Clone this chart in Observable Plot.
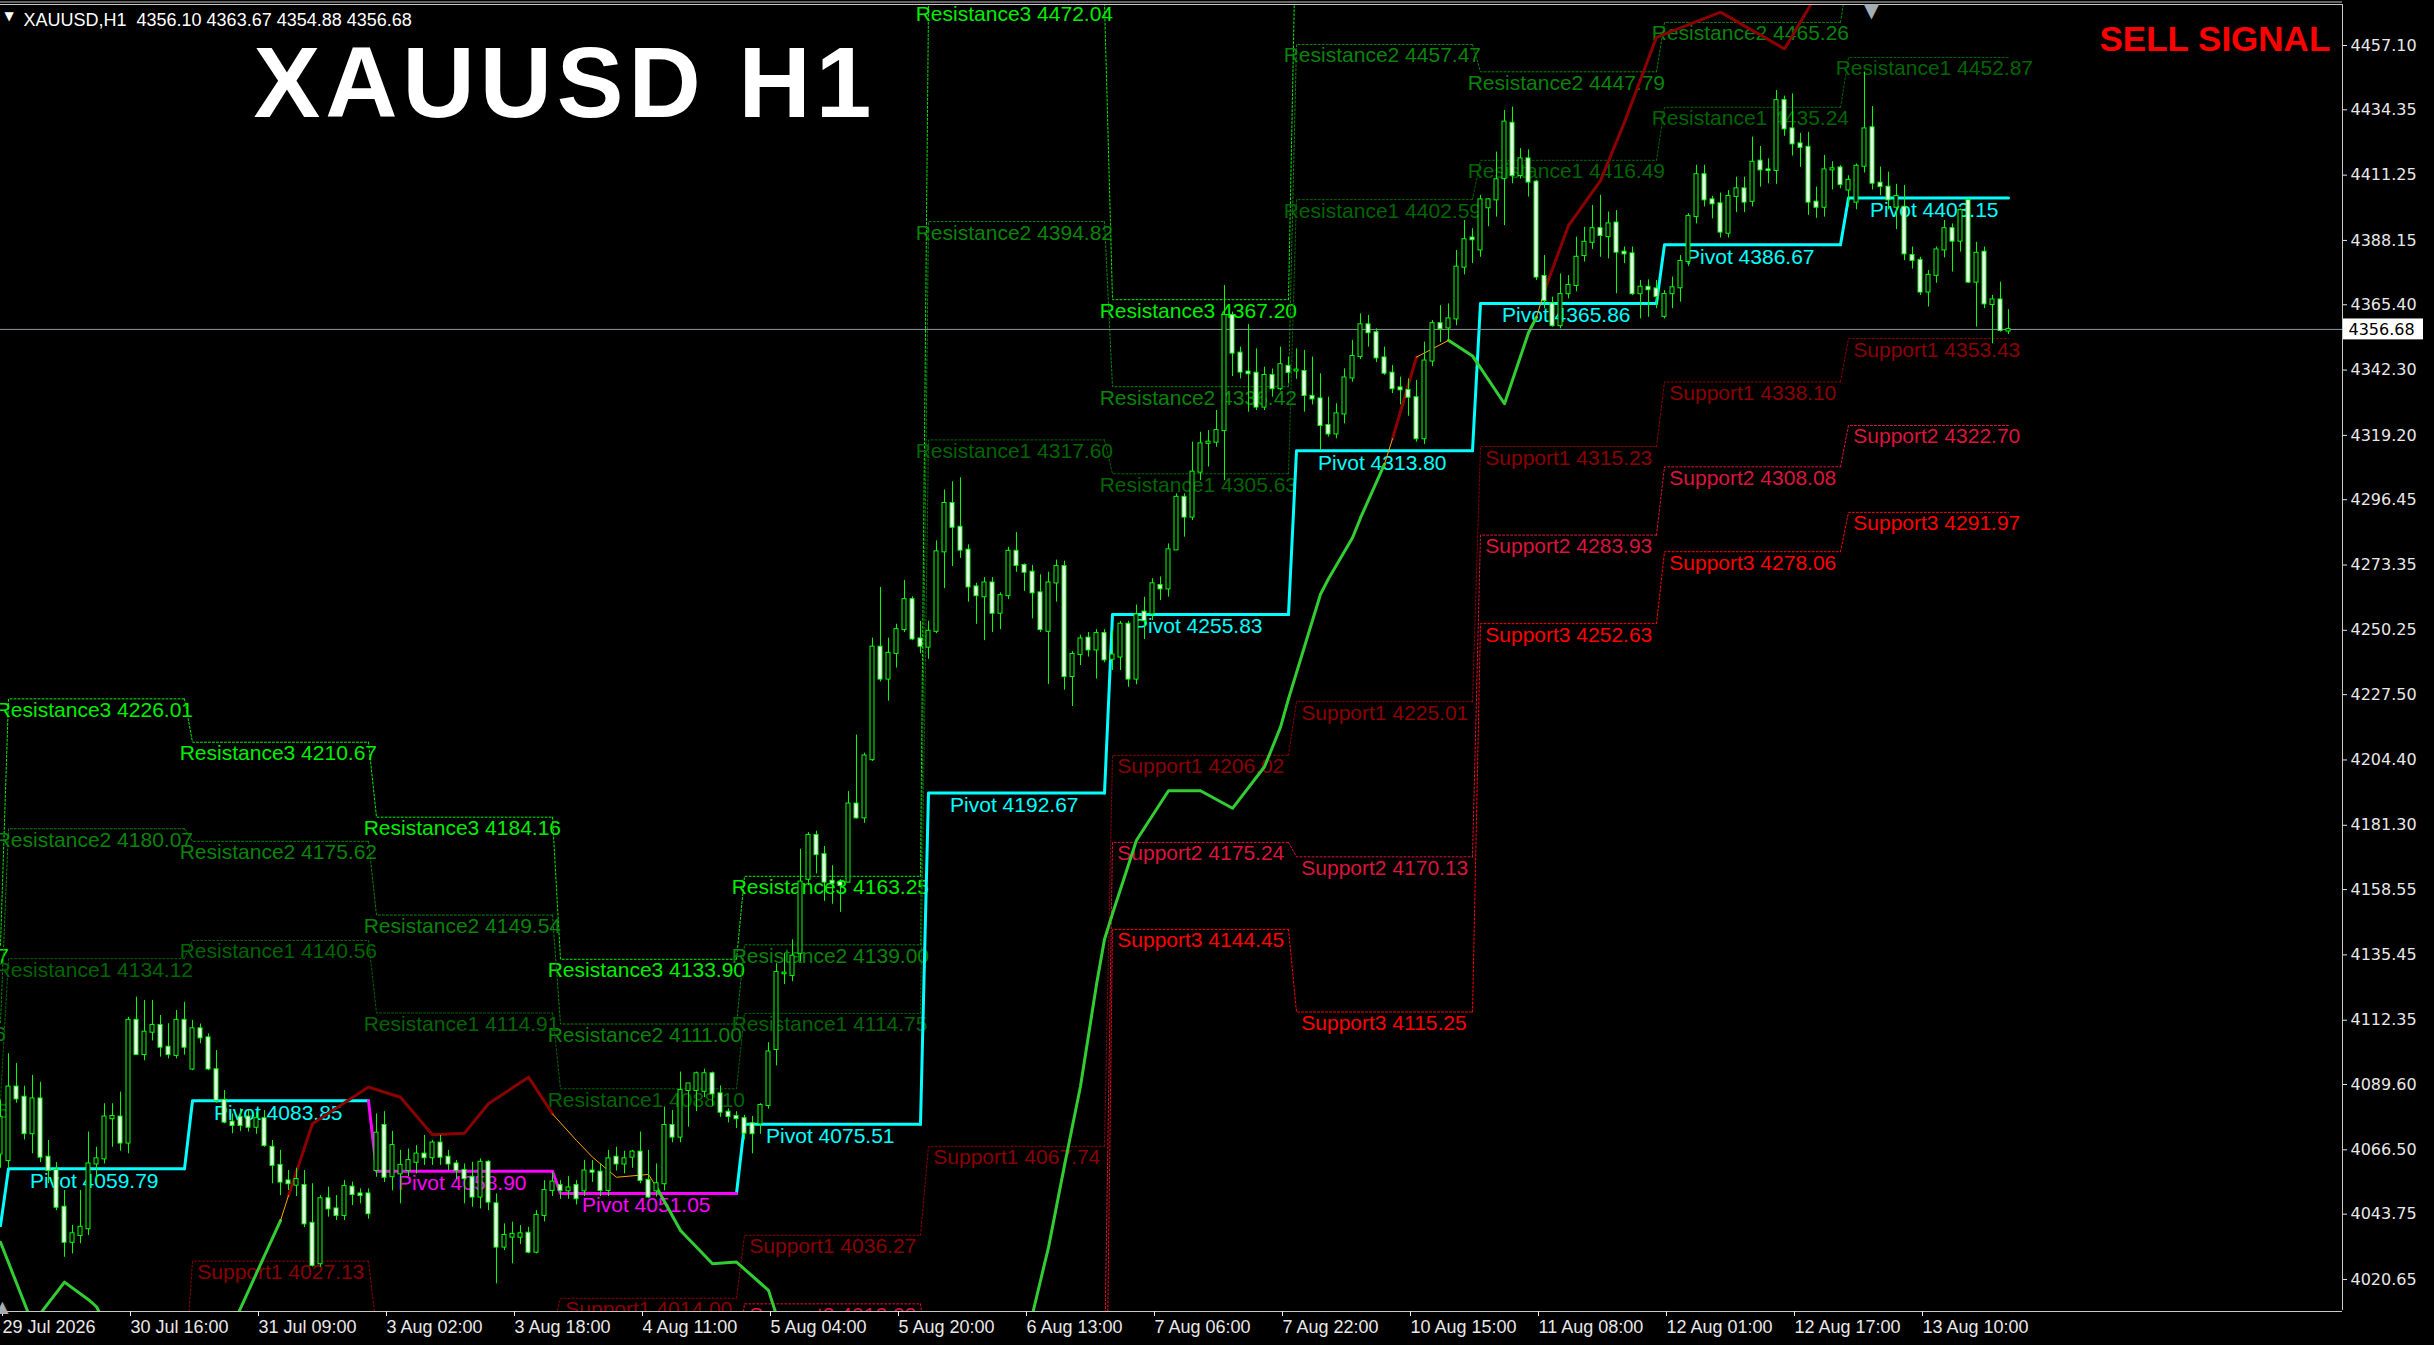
<!DOCTYPE html>
<html><head><meta charset="utf-8">
<script src="https://cdn.jsdelivr.net/npm/d3@7"></script>
<script src="https://cdn.jsdelivr.net/npm/@observablehq/plot@0.6"></script>
<style>
html,body{margin:0;padding:0;background:#000;overflow:hidden}
#chart{width:2434px;height:1345px}
</style></head><body><div id="chart"></div>
<script>
// ---------- DATA ----------
const barOpen = [4065,4062.7,4088.7,4085.1,4072.2,4084.5,4063.9,4059.2,4046.2,4033.8,
4036.2,4038.6,4061.5,4063.3,4077.5,4078.1,4068.9,4112.3,4100.2,4108.1,
4110.5,4102.8,4099.9,4112.3,4095.1,4109.3,4106.1,4094.8,4084,4076.3,
4078,4078.1,4074.5,4077.5,4067.4,4061,4055.5,4054,4053.9,4040.5,
4026.2,4049.2,4045.6,4043.3,4053.3,4050.9,4050.9,4059.2,4075.1,4057,
4058,4059.2,4062.1,4065,4063.7,4068.9,4063.9,4061.5,4059.2,4056.8,
4049.8,4062.1,4047.4,4032.1,4035.6,4035.6,4037,4030.3,4043.3,4052.1,
4053.9,4052,4053.9,4052,4059,4058.6,4052.1,4063.9,4061.5,4063.9,
4065.7,4055.7,4052,4054.5,4075.1,4071,4087.5,4087.5,4087.2,4093.4,
4086.3,4079.8,4078.3,4077.5,4075.7,4075.7,4082.2,4102,4128.8,4128.2,
4136,4162.2,4177.7,4170.9,4161.5,4161,4161.2,4188.8,4183.9,4204.5,
4244.3,4233,4242.1,4250.5,4261.1,4247.2,4244.3,4249.9,4278,4295.1,
4286.7,4278.6,4265.6,4262.1,4267,4256.3,4262.5,4278.2,4273.2,4270.8,
4263.5,4249.9,4267,4272.8,4233.9,4241.7,4247.5,4243.3,4249.1,4240,
4240.8,4252.4,4233,4256.7,4256.1,4266.1,4264.9,4278.7,4297.3,4290.3,
4306.2,4316.4,4316.8,4320.9,4361.6,4348.3,4341.6,4341.2,4329.2,4340.4,
4335.7,4343.6,4342,4341.8,4333,4332.1,4322.7,4319.7,4326.8,4339.5,
4347.1,4358.3,4355.5,4346.6,4341.2,4336,4335.1,4332.5,4318,4345.5,
4358.7,4357.2,4360.4,4378.7,4389,4384.8,4399.7,4402.5,4410,4429.6,
4411.1,4417,4408.8,4375.4,4365.7,4358,4369.3,4372.2,4382.8,4387.5,
4392.3,4389.5,4394.3,4384,4383.4,4369.3,4371.6,4371,4361.3,4369.3,
4371.4,4380.7,4396.6,4411.4,4402.5,4401.1,4390.7,4403.7,4406.4,4402,
4416.2,4413.1,4412.9,4437.6,4427.6,4422.3,4421.1,4401.7,4399.9,4413.1,
4413.8,4406,4401.7,4414.4,4428,4408.4,4407,4399.9,4399.9,4382.8,
4381.1,4369.9,4375.8,4384.8,4392.3,4387.9,4402.3,4373.4,4384,4365.5,
4367.1,4356.10];
const barHigh = [4084,4100.5,4097,4089,4092.8,4090.4,4069.8,4062,4052.1,4039.8,
4052.1,4072.8,4067.4,4082.8,4082.8,4086.9,4113.4,4120.5,4119.3,4119.3,
4114,4111.1,4115.8,4118.7,4112.3,4111,4107.5,4101.6,4087.5,4079.2,
4081,4080.4,4080,4080.4,4069.8,4066.3,4059.2,4060,4059.2,4054.5,
4050.3,4053.3,4050.3,4055.6,4055.1,4052.7,4052.7,4079.2,4080,4073,
4066.3,4066.8,4068,4071.6,4069.8,4071.6,4066.3,4062.7,4061.5,4062.1,
4063.3,4062.7,4050.9,4040.3,4040.9,4039.7,4039.1,4045,4055.6,4058.6,
4055.6,4057,4055.6,4062.7,4062.7,4061.5,4066.3,4067.4,4066,4066.3,
4072.8,4066.3,4061.5,4081.6,4080.4,4094,4089.9,4094,4095,4094,
4089.1,4081,4080,4078.7,4078.3,4082.8,4104.4,4132.3,4135.9,4140.8,
4172.8,4178.7,4179.2,4173.8,4167,4162,4193.2,4213.2,4206.8,4247.5,
4265.4,4247.5,4252.4,4267.9,4262.1,4253.4,4253.4,4281.9,4299.9,4302.8,
4304.2,4280.5,4266.9,4268.9,4268.9,4263.5,4279.6,4284.8,4273.7,4273.2,
4269.9,4270.8,4275.1,4274.7,4242.7,4248.5,4249.5,4250.5,4250.5,4250,
4253.4,4253.4,4259.2,4261.9,4268.5,4269.1,4280.8,4298.5,4298.5,4316.8,
4320.3,4320.9,4328,4372.2,4362.8,4350.4,4358.4,4349.8,4343.3,4342.7,
4350.4,4346.9,4349.8,4349.2,4346.9,4341,4332.7,4330.4,4342.7,4352.8,
4362.2,4361.6,4356.9,4350.4,4343.9,4339.8,4339.2,4338.6,4352.2,4359.8,
4365.1,4365.7,4384.6,4395.2,4392.3,4404.1,4402.9,4419.4,4434.1,4435.3,
4420.6,4420.2,4409.4,4382.8,4368.1,4376.3,4375.7,4389.3,4392.8,4400.5,
4404.1,4398.2,4398.7,4385.8,4385.8,4374,4374.2,4374,4370.4,4375.2,
4382.8,4397.6,4414.7,4414.7,4403.7,4404.9,4405.8,4410.5,4410.5,4424.7,
4421.4,4417,4441.2,4439.2,4440,4426,4426.4,4407,4418.2,4416,
4414.6,4411,4415.2,4447.7,4435.5,4414.1,4412.3,4408,4407.6,4385.8,
4382.2,4377.5,4385.8,4395.2,4394,4399.3,4402.9,4387.5,4385.8,4368.7,
4373.4,4363.67];
const barLow = [4060,4060,4083,4070,4065.1,4062,4054.5,4045,4028.5,4029.7,
4033.3,4036.2,4054.5,4061.5,4067.4,4066,4065.1,4099.9,4098,4105,
4099.3,4098.7,4098.7,4100,4094.5,4104,4094.5,4083,4075.7,4072.2,
4073,4072.8,4072,4067.4,4054.5,4050.3,4052.1,4050,4039,4025,
4025,4042.7,4041.5,4041.5,4046.8,4047.4,4042,4056.8,4055,4052,
4047.4,4057,4058,4061,4061,4061,4059.2,4056,4047.4,4046.2,
4045.6,4045,4019.1,4030.9,4026.2,4033,4029.7,4029.7,4041,4050,
4049,4049,4047,4050,4055,4050,4050,4059,4058,4060,
4054.5,4049.2,4049.8,4052,4069,4069,4074.5,4080,4085,4081.9,
4078,4076,4074,4070,4065.1,4072,4080.9,4096.2,4125,4126,
4133,4160,4164.1,4154.4,4153.4,4150.5,4161,4183.5,4182,4203.9,
4232,4225.2,4236.9,4249.5,4246.6,4242,4240,4249.1,4265,4272.8,
4275.7,4260.2,4252.4,4246.6,4249.5,4250.5,4261.1,4270.8,4264,4254.3,
4249.5,4231.1,4260.2,4229.1,4223.3,4237.8,4240.8,4233,4238.8,4236,
4236,4230.1,4231,4247,4253.7,4260.8,4262,4278.5,4283.2,4289.1,
4303.2,4308,4315,4303.2,4340,4339.2,4327.4,4328,4328,4332.7,
4335,4337.4,4339,4327.4,4330,4313.9,4318.6,4318,4323.3,4338,
4346,4350.4,4345,4340.4,4334,4330,4326,4316.8,4316,4343.5,
4352,4352.8,4358,4376,4380,4382.2,4393,4396.4,4393.4,4408.2,
4409.9,4403.5,4374,4364,4357.5,4356.9,4367.5,4370,4380.5,4385,
4382.2,4381.6,4369.3,4380,4368.7,4360.4,4361,4364,4360.4,4364,
4366.3,4379,4394,4400,4395.8,4389,4389,4398,4398,4400,
4407,4408.2,4408,4425,4418,4414,4397,4396,4396.4,4406,
4406.4,4400,4399,4412,4406,4404,4399,4392,4381,4378,
4368.7,4364.6,4373,4382,4377,4384,4373,4357.5,4364,4351.6,
4355.7,4354.88];
const barClose = [4078,4088.7,4084.5,4072.2,4084.5,4063.9,4059.2,4046.2,4033.8,4036.8,
4039.1,4061.5,4063.3,4078.1,4078.3,4068.9,4112.3,4100.2,4108.1,4110.5,
4102.8,4100.2,4112.3,4102.8,4109.3,4106.1,4095.1,4084,4076.3,4075.1,
4075.1,4074.5,4077.5,4068,4061,4055.1,4054.5,4056,4040.3,4025.6,
4049.2,4045.6,4043.3,4053.5,4050.7,4050.3,4043.9,4072.4,4056.8,4068,
4061,4062.7,4065,4063.7,4068.9,4063.9,4061.5,4059.2,4056.3,4049.8,
4062.1,4048,4032.1,4036.2,4036.6,4036.8,4030.3,4043.3,4052.1,4055.1,
4052.1,4053,4049.2,4059,4058.6,4052.1,4063.3,4061.5,4063.3,4065.7,
4055.7,4049.8,4054.5,4075.1,4071,4087.5,4089.8,4093.4,4093.4,4086.3,
4079.8,4078.3,4077.5,4072.4,4072.2,4082.2,4101.1,4129.2,4129,4135,
4161.2,4177.7,4170.9,4161.2,4160.8,4160,4188.8,4183.9,4205.8,4244.3,
4233,4242.1,4250.5,4261.1,4247.2,4244.6,4249.9,4278,4295.1,4286.7,
4278.6,4265.6,4262.5,4267,4256.3,4262.5,4278.2,4273.2,4270.8,4263.5,
4250.5,4267,4272.8,4233.9,4241.7,4247.2,4243.3,4249.1,4239.8,4241.5,
4252.4,4233,4255.7,4253.7,4266.7,4264.9,4278.7,4297.3,4290.3,4306.2,
4316.2,4316.8,4320.9,4361.6,4348.3,4341.6,4341,4329.2,4340.4,4335.7,
4344.2,4341.5,4342.3,4333.3,4332.1,4322.7,4319.7,4326.8,4339.5,4347.1,
4358.3,4355.5,4346.6,4341.2,4335.7,4335.3,4332.7,4318,4345.5,4358.7,
4356.9,4360.4,4378.7,4388.4,4388.4,4402.5,4402.5,4409.6,4430,4411.1,
4417,4408.8,4375.2,4366.9,4358,4369,4372.2,4382.2,4387.5,4392.3,
4389.9,4394,4384,4383.4,4369.3,4371.6,4370.7,4368.3,4369,4371.4,
4380.7,4396.6,4411.4,4402.5,4401.1,4391.1,4403.7,4406.4,4401.7,4415.8,
4413.1,4412.9,4437.6,4427.6,4422.3,4421.1,4401.7,4399.9,4413.1,4413.5,
4407.9,4409.4,4414.4,4427.6,4408.4,4407.2,4402.5,4403.7,4383.4,4381.1,
4369.9,4375.8,4384.8,4392.3,4387.9,4398.7,4373.4,4383.6,4365.7,4367.1,
4356.3,4356.68];

// daily pivot levels (index 0 = 29 Jul, then 30 Jul ... 13 Aug)
const dayStart    = [-22, 1, 24, 47, 70, 93, 116, 139, 162, 185, 208, 231];
const pivotLevels = [4039.70,4059.79,4083.85,4058.90,4051.05,4075.51,4192.67,4255.83,4313.80,4365.86,4386.67,4403.15];
const r1Levels = [4084.05,4134.12,4140.56,4114.91,4088.10,4114.75,4317.60,4305.63,4402.59,4416.49,4435.24,4452.87];
const r2Levels = [4111.46,4180.07,4175.62,4149.54,4111.00,4139.00,4394.82,4336.42,4457.47,4447.79,4465.26,4483.60];
const r3Levels = [4138.87,4226.01,4210.67,4184.16,4133.90,4163.25,4472.04,4367.20,4512.35,4479.08,4495.28,4514.33];
const s1Levels = [3995.35,3985.46,4027.13,4002.89,4014.00,4036.27,4067.74,4206.02,4225.01,4315.23,4338.10,4353.43];
const s2Levels = [3967.96,3939.52,3992.08,3968.26,3991.10,4012.02,3990.53,4175.24,4170.13,4283.93,4308.08,4322.70];
const s3Levels = [3940.57,3893.58,3957.03,3933.63,3968.20,3987.77,3913.32,4144.45,4115.25,4252.63,4278.06,4291.97];

// trend line (g = green, r = dark red, o = orange); colour belongs to the segment ending at that point
const trendBars   = [0,4,8,11,12,14,28,35,36,39,46,50,54,58,61,66,69,72,74,77,81,82,85,89,92,96,97,99,128,129,131,133,135,137,138,139,142,146,150,154,158,160,161,165,166,169,170,173,174,177,181,182,184,188,191,192,193,196,200,203,207,215,223,227,229];
const trendValues = [4033.8,4005,4019.7,4013.5,4011,4000,3998,4041.5,4050.3,4075.7,4088.7,4085.1,4071.8,4072.4,4082.8,4092.2,4079.2,4069.8,4063.9,4056.8,4057.8,4053.3,4038,4026.2,4026.8,4016.8,4008,3995,3994,4008.4,4032,4061,4089,4125,4141,4150,4176,4193.5,4193.5,4187.3,4202,4216,4226,4263,4268.5,4283,4290,4309,4318,4346.9,4352.8,4351,4347.3,4330.4,4355.5,4361,4370.4,4393.4,4409.3,4430,4460,4468.9,4455.9,4475,4485];
const trendColor  = ["g","g","g","g","g","g","g","g","o","r",
"r","r","r","r","r","r","r","o","o","o",
"o","o","g","g","g","g","g","g","g","g",
"g","g","g","g","g","g","g","g","g","g",
"g","g","g","g","g","g","g","g","o","r",
"o","g","g","g","g","g","o","r","r","r",
"r","r","r","r","r"];

const priceTicks = [4457.10,4434.35,4411.25,4388.15,4365.40,4342.30,4319.20,4296.45,4273.35,4250.25,4227.50,4204.40,4181.30,4158.55,4135.45,4112.35,4089.60,4066.50,4043.75,4020.65];
const timeTickBars   = [0,16,32,48,64,80,96,112,128,144,160,176,192,208,224,240];
const timeTickLabels = ["29 Jul 2026","30 Jul 16:00","31 Jul 09:00","3 Aug 02:00","3 Aug 18:00","4 Aug 11:00","5 Aug 04:00","5 Aug 20:00","6 Aug 13:00","7 Aug 06:00","7 Aug 22:00","10 Aug 15:00","11 Aug 08:00","12 Aug 01:00","12 Aug 17:00","13 Aug 10:00"];

const symbolTitle = "XAUUSD H1";
const signalText = "SELL SIGNAL";

// ---------- BUILD ----------
const lastBar = barClose.length - 1;
const candles = barClose.map((c, i) => ({i, o: barOpen[i], h: barHigh[i], l: barLow[i], c}));
const bulls = candles.filter(d => d.c >= d.o), bears = candles.filter(d => d.c < d.o);

function stepRows(vals) {
  const out = [];
  for (let d = 0; d < dayStart.length; d++) {
    const s = dayStart[d], e = d < dayStart.length - 1 ? dayStart[d + 1] - 1 : lastBar;
    const up = d === 0 || vals[d] >= vals[d - 1];
    if (d > 0) out.push({x: s - 1, y: vals[d - 1], d, up});
    out.push({x: s, y: vals[d], d, up});
    out.push({x: e, y: vals[d], d, up});
  }
  return out;
}
function labelRows(vals, name, off) {
  return vals.map((v, d) => ({x: dayStart[d] + off, y: v, text: `${name} ${v.toFixed(2)}`, up: d === 0 || v >= vals[d - 1]}));
}

const levels = [
  {vals: r3Levels, name: "Resistance3", color: "#00ee00", off: -1.6},
  {vals: r2Levels, name: "Resistance2", color: "#0a840a", off: -1.6},
  {vals: r1Levels, name: "Resistance1", color: "#006600", off: -1.6},
  {vals: s1Levels, name: "Support1", color: "#8b0000", off: 0.6},
  {vals: s2Levels, name: "Support2", color: "#dc143c", off: 0.6},
  {vals: s3Levels, name: "Support3", color: "#ff0000", off: 0.6}
];

const runs = []; let cur = null;
for (let k = 1; k < trendBars.length; k++) {
  const c = trendColor[k];
  if (!cur || cur.c !== c) { cur = {c, pts: [{x: trendBars[k - 1], y: trendValues[k - 1]}]}; runs.push(cur); }
  cur.pts.push({x: trendBars[k], y: trendValues[k]});
}
const trendRows = runs.flatMap((r, i) => r.pts.map(p => ({...p, run: i, c: r.c})));

const pivRows = stepRows(pivotLevels);
const pivLabels = labelRows(pivotLevels, "Pivot", 2.7);
const lastClose = barClose[lastBar];
const fmt = v => v.toFixed(2);
const header = `XAUUSD,H1\u00a0 ${fmt(barOpen[lastBar])} ${fmt(barHigh[lastBar])} ${fmt(barLow[lastBar])} ${fmt(barClose[lastBar])}`;

const LABEL_FONT = "'Liberation Sans', Arial, sans-serif";
const levelMarks = levels.flatMap(L => [
  Plot.line(stepRows(L.vals), {x: "x", y: "y", z: "d", stroke: L.color, strokeWidth: 1, strokeDasharray: "2,2", clip: true}),
  Plot.text(labelRows(L.vals, L.name, L.off), {x: "x", y: "y", text: "text", fill: L.color, textAnchor: "start", lineAnchor: "top", dy: 3, fontSize: 21, fontFamily: LABEL_FONT, clip: true})
]);

const XMAX = 292.75;
const chart = Plot.plot({
  width: 2434, height: 1345,
  marginLeft: 0, marginRight: 92, marginTop: 5, marginBottom: 34,
  x: {domain: [0, XMAX]},
  y: {domain: [4009.32, 4471.25]},
  style: {background: "#000", color: "#e8e8e8", fontFamily: LABEL_FONT},
  marks: [
    ...levelMarks,
    Plot.line(pivRows.filter(d => d.up), {x: "x", y: "y", z: "d", stroke: "#00ffff", strokeWidth: 3, clip: true}),
    Plot.line(pivRows.filter(d => !d.up), {x: "x", y: "y", z: "d", stroke: "#ff00ff", strokeWidth: 3, clip: true}),
    Plot.text(pivLabels.filter(d => d.up), {x: "x", y: "y", text: "text", fill: "#00ffff", textAnchor: "start", lineAnchor: "top", dy: 4, fontSize: 21, fontFamily: LABEL_FONT, clip: true}),
    Plot.text(pivLabels.filter(d => !d.up), {x: "x", y: "y", text: "text", fill: "#ff00ff", textAnchor: "start", lineAnchor: "top", dy: 4, fontSize: 21, fontFamily: LABEL_FONT, clip: true}),
    Plot.line(trendRows.filter(d => d.c === "g"), {x: "x", y: "y", z: "run", stroke: "#32cd32", strokeWidth: 3, clip: true}),
    Plot.line(trendRows.filter(d => d.c === "r"), {x: "x", y: "y", z: "run", stroke: "#8b0000", strokeWidth: 3, clip: true}),
    Plot.line(trendRows.filter(d => d.c === "o"), {x: "x", y: "y", z: "run", stroke: "#ffa500", strokeWidth: 1, clip: true}),
    Plot.ruleY([lastClose], {stroke: "#8c96a0", strokeWidth: 1}),
    Plot.ruleX(candles, {x: "i", y1: "l", y2: "h", stroke: "#00ff00", strokeWidth: 1, clip: true}),
    Plot.rect(bulls, {x1: d => d.i - 0.25, x2: d => d.i + 0.25, y1: "o", y2: "c", fill: "#000", stroke: "#00ff00", strokeWidth: 1, insetTop: -0.5, insetBottom: -0.5, clip: true}),
    Plot.rect(bears, {x1: d => d.i - 0.25, x2: d => d.i + 0.25, y1: "o", y2: "c", fill: "#fff", stroke: "#00ff00", strokeWidth: 1, insetTop: -0.5, insetBottom: -0.5, clip: true}),
    // frame
    Plot.ruleY([4009.32], {stroke: "#c8c8c8"}),
    Plot.ruleX([XMAX], {stroke: "#c8c8c8", y1: 4009.32, y2: 4471.25, dy: -1}),
    Plot.ruleY([4471.25], {stroke: "#c8c8c8", dy: -1}),
    Plot.ruleY([4471.25], {stroke: "#c8c8c8", dy: -3.5}),
    Plot.axisY({anchor: "right", ticks: priceTicks, tickFormat: fmt, tickSize: 4, tickPadding: 4, fontSize: 16, fontFamily: "'DejaVu Sans', Verdana, sans-serif", label: null}),
    Plot.axisX({ticks: timeTickBars, tickFormat: d => timeTickLabels[timeTickBars.indexOf(d)], textAnchor: "start", tickSize: 5, tickPadding: 4, dx: 2, fontSize: 18, fontFamily: LABEL_FONT, label: null}),
    // current price box
    Plot.rect([lastClose], {x1: XMAX + 1 / 8, x2: XMAX + 81 / 8, y1: d => d - 3.7, y2: d => d + 3.7, fill: "#fff"}),
    Plot.text([lastClose], {x: XMAX, y: d => d, dx: 6, text: fmt, fill: "#000", textAnchor: "start", fontSize: 16, fontFamily: "'DejaVu Sans', Verdana, sans-serif"}),
    // overlays
    Plot.text(["\u25BC"], {frameAnchor: "top-left", dx: 4, dy: 6, lineAnchor: "top", textAnchor: "start", fill: "#fff", fontSize: 12, fontFamily: "'DejaVu Sans', sans-serif"}),
    Plot.text([header], {frameAnchor: "top-left", dx: 23, dy: 20, lineAnchor: "bottom", textAnchor: "start", fill: "#fff", fontSize: 18, fontFamily: LABEL_FONT}),
    Plot.text([symbolTitle], {frameAnchor: "top-left", dx: 253, dy: 111, lineAnchor: "bottom", textAnchor: "start", fill: "#fff", fontSize: 100, fontWeight: "bold", fontFamily: LABEL_FONT, className: "big-title"}),
    Plot.text([signalText], {frameAnchor: "top-left", dx: 2099, dy: 45, lineAnchor: "bottom", textAnchor: "start", fill: "#ff0000", fontSize: 35, fontWeight: "bold", fontFamily: LABEL_FONT}),
    Plot.text(["\u25BC"], {frameAnchor: "top-left", dx: 1871, dy: -3, lineAnchor: "top", textAnchor: "middle", fill: "#a4acb4", fontSize: 20, fontFamily: "'DejaVu Sans', sans-serif"}),
    Plot.text(["\u25B2"], {frameAnchor: "bottom-left", dx: 2, dy: 0, lineAnchor: "bottom", textAnchor: "middle", fill: "#a4acb4", fontSize: 16, fontFamily: "'DejaVu Sans', sans-serif"})
  ]
});
// widen the big title's letter spacing
d3.select(chart).selectAll("text").filter(function() { return this.textContent === symbolTitle; }).style("letter-spacing", "5px");
document.getElementById("chart").appendChild(chart);
</script>
</body></html>
